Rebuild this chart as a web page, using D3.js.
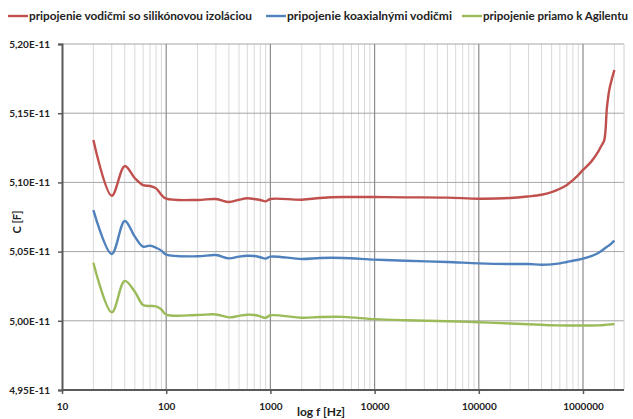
<!DOCTYPE html>
<html><head><meta charset="utf-8">
<script src="https://cdn.jsdelivr.net/npm/d3@7"></script>
<style>body{margin:0;background:#fff}svg{display:block}text{font-family:Lato,"Open Sans",sans-serif;font-weight:bold;fill:#222}</style>
</head><body><svg id="c" width="633" height="419"></svg>
<script>
const freqs = [20,30,40,50,60,70,80,90,100,200,300,400,500,600,700,800,900,1000,2000,3000,5000,10000,20000,50000,100000,200000,300000,400000,500000,600000,700000,800000,900000,1000000,1200000,1400000,1500000,1600000,1700000,1800000,1900000,2000000];
const silikon = [5.1306,5.0904,5.1118,5.103,5.098,5.0974,5.0957,5.091,5.0882,5.0873,5.088,5.0858,5.0875,5.0885,5.088,5.0873,5.0863,5.088,5.0875,5.0887,5.0894,5.0894,5.0892,5.089,5.0882,5.0887,5.0899,5.0911,5.093,5.0954,5.0981,5.1017,5.1053,5.109,5.115,5.1222,5.1265,5.1306,5.1547,5.168,5.1752,5.1812];
const koax = [5.080,5.0483,5.0721,5.0608,5.0536,5.0543,5.0528,5.0507,5.0478,5.0466,5.0475,5.0451,5.0464,5.047,5.0468,5.0459,5.0449,5.0464,5.0447,5.0454,5.0454,5.0442,5.0434,5.0425,5.0415,5.041,5.041,5.0405,5.0408,5.0415,5.0425,5.0434,5.0441,5.0449,5.0468,5.049,5.0505,5.0521,5.0535,5.0548,5.0563,5.0579];
const priamo = [5.042,5.0061,5.0288,5.021,5.0114,5.0107,5.0104,5.0082,5.0045,5.0042,5.0046,5.0025,5.0036,5.0044,5.0042,5.0032,5.0022,5.004,5.0022,5.0027,5.0028,5.0012,5.0004,4.9997,4.999,4.998,4.9975,4.9971,4.9968,4.9967,4.9966,4.9966,4.9966,4.9966,4.9966,4.9967,4.9968,4.997,4.9972,4.9973,4.9975,4.9976];
const seriesNames = ["pripojenie vodičmi so silikónovou izoláciou","pripojenie koaxialnými vodičmi","pripojenie priamo k Agilentu"];
const seriesColors = ["#C0504D","#4F81BD","#9BBB59"];
const yTicks = [4.95,5.00,5.05,5.10,5.15,5.20];
const xTicks = [10,100,1000,10000,100000,1000000];

const svg = d3.select("#c");
const L=62,R=624,T=44,B=390;
const x = d3.scaleLog().domain([10, Math.pow(10, 1+(R-L)/104.2)]).range([L,R]);
const y = d3.scaleLinear().domain([4.95,5.20]).range([B,T]);

// minor vertical gridlines
const minor=[];
for(let d=10; d<=1000000; d*=10){for(let k=2;k<=9;k++){const v=d*k; if(x(v)<=R) minor.push(v);}}
svg.append("g").selectAll("line").data(minor).join("line")
  .attr("x1",d=>x(d)).attr("x2",d=>x(d)).attr("y1",T).attr("y2",B)
  .attr("stroke","#D9D9D9").attr("stroke-width",1);
// horizontal gridlines
svg.append("g").selectAll("line").data(yTicks.slice(1)).join("line")
  .attr("x1",L).attr("x2",R).attr("y1",d=>y(d)).attr("y2",d=>y(d))
  .attr("stroke","#A6A6A6").attr("stroke-width",1);
// major verticals
svg.append("g").selectAll("line").data(xTicks.slice(1)).join("line")
  .attr("x1",d=>x(d)).attr("x2",d=>x(d)).attr("y1",T).attr("y2",B)
  .attr("stroke","#8C8C8C").attr("stroke-width",1.2);
// right border
svg.append("line").attr("x1",R).attr("x2",R).attr("y1",T).attr("y2",B).attr("stroke","#D0D0D0");

// axes
const yAxis = d3.axisLeft(y).tickValues(yTicks).tickSize(4).tickFormat(d=>d.toFixed(2).replace(".",",")+"E-11");
const gy = svg.append("g").attr("transform",`translate(${L},0)`).call(yAxis);
gy.select(".domain").attr("stroke","#595959").attr("stroke-width",2);
gy.selectAll(".tick line").attr("stroke","#595959").attr("stroke-width",1.5);
gy.selectAll("text").attr("font-size",10).attr("x",-12).attr("fill","#222").style("font-weight","bold").style("font-family","Lato");

const xAxis = d3.axisBottom(x).tickValues(xTicks).tickSize(4).tickFormat(d=>String(d));
const gx = svg.append("g").attr("transform",`translate(0,${B})`).call(xAxis);
gx.select(".domain").attr("stroke","#595959").attr("stroke-width",2).attr("d",`M${L},0H${R}`);
gx.selectAll(".tick line").attr("stroke","#595959").attr("stroke-width",1.5);
gx.selectAll("text").attr("font-size",10).attr("y",13).attr("fill","#222").style("font-weight","bold").style("font-family","Lato");

// lines
const data=[silikon,koax,priamo];
const line = d3.line().x((d,i)=>x(freqs[i])).y(d=>y(d)).curve(d3.curveCatmullRom.alpha(0.5));
data.forEach((s,i)=>{
  svg.append("path").attr("d",line(s)).attr("fill","none").attr("stroke",seriesColors[i]).attr("stroke-width",2.4).attr("stroke-linejoin","round");
});

// axis titles
svg.append("text").attr("x",321).attr("y",416).attr("text-anchor","middle").attr("font-size",12).text("log f [Hz]");
svg.append("text").attr("transform","translate(21,222) rotate(-90)").attr("text-anchor","middle").attr("font-size",11).text("C [F]");

// legend
const legX=[8,266,462], legW=[223,165,145];
seriesNames.forEach((n,i)=>{
  svg.append("line").attr("x1",legX[i]).attr("x2",legX[i]+20).attr("y1",16).attr("y2",16).attr("stroke",seriesColors[i]).attr("stroke-width",2.4);
  svg.append("text").attr("x",legX[i]+21).attr("y",20).attr("font-size",11.5).attr("textLength",legW[i]).attr("lengthAdjust","spacingAndGlyphs").text(n);
});
</script></body></html>
